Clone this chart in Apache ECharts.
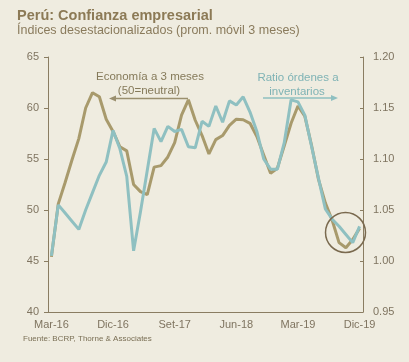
<!DOCTYPE html>
<html>
<head>
<meta charset="utf-8">
<script src="https://cdn.jsdelivr.net/npm/echarts@6/dist/echarts.min.js"></script>
<style>
html,body{margin:0;padding:0;background:#EFECE0;}
#c{width:409px;height:362px;}
</style>
</head>
<body>
<div id="c"></div>
<script>
var categories = ["Mar-16","Abr-16","May-16","Jun-16","Jul-16","Ago-16","Set-16","Oct-16","Nov-16","Dic-16",
"Ene-17","Feb-17","Mar-17","Abr-17","May-17","Jun-17","Jul-17","Ago-17","Set-17","Oct-17","Nov-17","Dic-17",
"Ene-18","Feb-18","Mar-18","Abr-18","May-18","Jun-18","Jul-18","Ago-18","Set-18","Oct-18","Nov-18","Dic-18",
"Ene-19","Feb-19","Mar-19","Abr-19","May-19","Jun-19","Jul-19","Ago-19","Set-19","Oct-19","Nov-19","Dic-19"];

var economia3m = [45.4,50.6,52.7,54.9,57.0,60.0,61.5,61.1,58.9,57.7,
56.2,55.8,52.5,51.8,51.5,54.2,54.35,55.2,56.6,59.3,60.8,58.8,57.3,
55.5,56.9,57.3,58.3,58.9,58.85,58.5,57.2,55.4,53.6,54.1,
56.3,58.5,60.2,59.2,56.3,53.0,50.7,49.0,46.8,46.3,47.1,48.2];

var ratioOrdenes = [1.005,1.055,1.047,1.039,1.031,1.050,1.067,1.084,1.097,1.128,
1.110,1.083,1.010,1.048,1.089,1.130,1.117,1.132,1.127,1.129,1.112,1.111,1.137,
1.132,1.152,1.136,1.157,1.153,1.161,1.146,1.127,1.100,1.090,1.090,
1.116,1.158,1.156,1.143,1.112,1.081,1.051,1.041,1.034,1.026,1.018,1.034];

var leftTicks = {min:40, max:65, interval:5};
var rightTicks = {min:0.95, max:1.20, interval:0.05};

var FONT = "Liberation Sans";
var axisCol = "#8A7D62";
var labelCol = "#7F7460";
var oliveCol = "#A89A6C";
var tealCol = "#8FC0C1";

var chart = echarts.init(document.getElementById('c'), null, {renderer:'canvas'});
chart.setOption({
  backgroundColor: "#EFECE0",
  animation: false,
  grid: {left: 48, right: 46, top: 57, bottom: 50},
  xAxis: {
    type: 'category',
    data: categories,
    boundaryGap: true,
    axisLine: {lineStyle: {color: axisCol, width: 1}},
    axisTick: {interval: 8, inside: true, length: 3, lineStyle: {color: axisCol}},
    axisLabel: {interval: 8, color: labelCol, fontFamily: FONT, fontSize: 11, margin: 7}
  },
  yAxis: [{
    type: 'value', min: leftTicks.min, max: leftTicks.max, interval: leftTicks.interval,
    splitLine: {show: false},
    axisLine: {show: true, lineStyle: {color: axisCol}},
    axisTick: {show: true, length: 4, lineStyle: {color: axisCol}},
    axisLabel: {color: labelCol, fontFamily: FONT, fontSize: 11, margin: 9}
  },{
    type: 'value', min: rightTicks.min, max: rightTicks.max, interval: rightTicks.interval,
    position: 'right',
    splitLine: {show: false},
    axisLine: {show: true, lineStyle: {color: axisCol}},
    axisTick: {show: true, inside: true, length: 3, lineStyle: {color: axisCol}},
    axisLabel: {color: labelCol, fontFamily: FONT, fontSize: 11, margin: 10,
      formatter: function(v){ return v.toFixed(2); }}
  }],
  series: [{
    name: 'Economía a 3 meses', type: 'line', data: economia3m, yAxisIndex: 0,
    symbol: 'none', lineStyle: {color: oliveCol, width: 3}, z: 2
  },{
    name: 'Ratio órdenes a inventarios', type: 'line', data: ratioOrdenes, yAxisIndex: 1,
    symbol: 'none', lineStyle: {color: tealCol, width: 3}, z: 3
  }],
  graphic: [
    {type:'text', left: 17, top: 8, style:{text:'Perú: Confianza empresarial', fill:'#8C7A56', font:'bold 14.5px "'+FONT+'"'}},
    {type:'text', left: 17, top: 24, style:{text:'Índices desestacionalizados (prom. móvil 3 meses)', fill:'#8A7B5C', font:'12.5px "'+FONT+'"'}},
    {type:'text', left: 23, top: 335, style:{text:'Fuente: BCRP, Thorne & Associates', fill:'#7A6F55', font:'8px "'+FONT+'"'}},
    {type:'text', x: 150, y: 77, z: 10, style:{text:'Economía a 3 meses', fill:'#857A5A', font:'11.5px "'+FONT+'"', textAlign:'center', textVerticalAlign:'middle'}},
    {type:'text', x: 149, y: 91, z: 10, style:{text:'(50=neutral)', fill:'#857A5A', font:'11.5px "'+FONT+'"', textAlign:'center', textVerticalAlign:'middle'}},
    {type:'line', z: 10, shape:{x1: 114, y1: 98.5, x2: 188, y2: 98.5}, style:{stroke:'#9A8F6E', lineWidth:1.5}},
    {type:'polygon', z: 10, shape:{points:[[109,98.5],[116,95.5],[116,101.5]]}, style:{fill:'#9A8F6E'}},
    {type:'text', x: 298, y: 78, z: 10, style:{text:'Ratio órdenes a', fill:'#7FB3B5', font:'11.5px "'+FONT+'"', textAlign:'center', textVerticalAlign:'middle'}},
    {type:'text', x: 297, y: 92, z: 10, style:{text:'inventarios', fill:'#7FB3B5', font:'11.5px "'+FONT+'"', textAlign:'center', textVerticalAlign:'middle'}},
    {type:'line', z: 10, shape:{x1: 263, y1: 98, x2: 332, y2: 98}, style:{stroke:'#8FC0C1', lineWidth:1.5}},
    {type:'polygon', z: 10, shape:{points:[[338,98],[331,95],[331,101]]}, style:{fill:'#8FC0C1'}},
    {type:'circle', z: 10, shape:{cx: 345.5, cy: 232.5, r: 20}, style:{fill:'none', stroke:'#7A6A4F', lineWidth:1.5}}
  ]
});
</script>
</body>
</html>
